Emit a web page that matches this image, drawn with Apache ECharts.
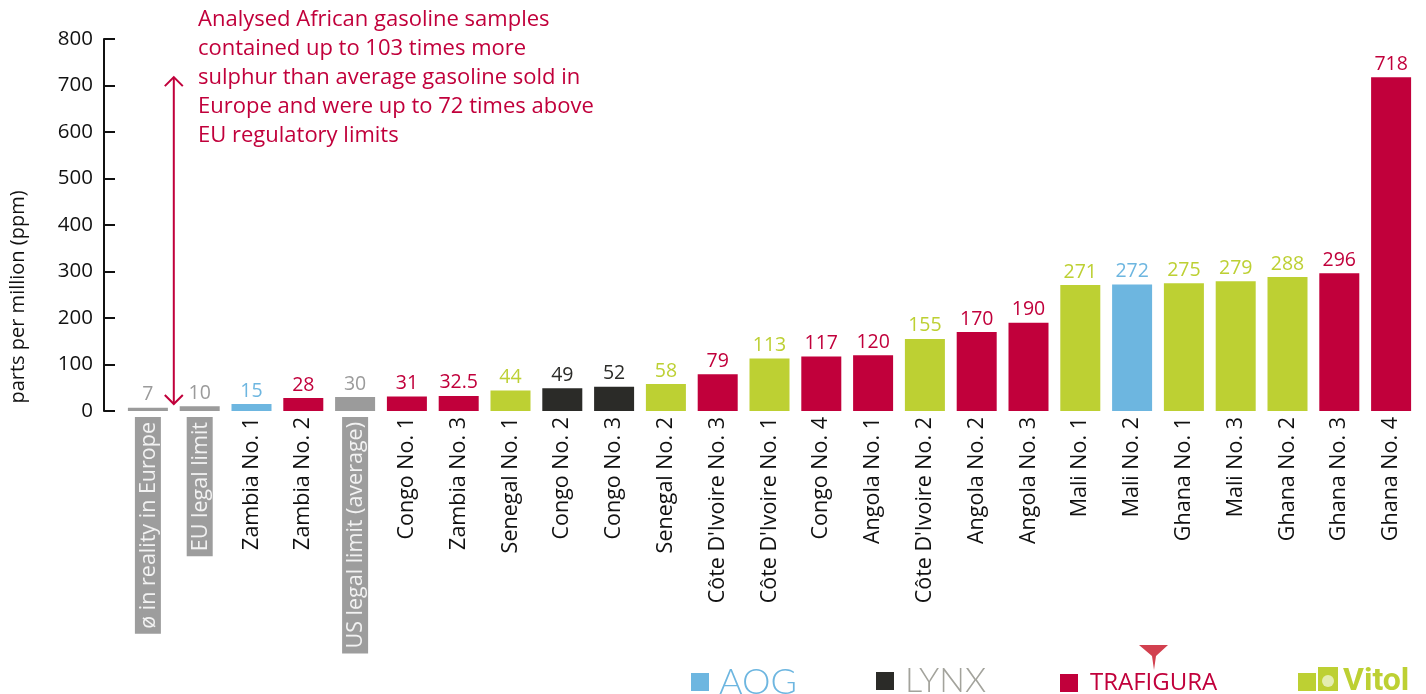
<!DOCTYPE html>
<html>
<head>
<meta charset="utf-8">
<script src="https://cdn.jsdelivr.net/npm/echarts@6/dist/echarts.min.js"></script>
<style>
  html, body { margin: 0; padding: 0; background: #fff; }
  #main { width: 1426px; height: 694px; }
</style>
</head>
<body>
<div id="main"></div>
<script>
var categories = ['ø in reality in Europe', 'EU legal limit', 'Zambia No. 1', 'Zambia No. 2',
	'US legal limit (average)', 'Congo No. 1', 'Zambia No. 3', 'Senegal No. 1', 'Congo No. 2',
	'Congo No. 3', 'Senegal No. 2', "Côte D'Ivoire No. 3", "Côte D'Ivoire No. 1", 'Congo No. 4',
	'Angola No. 1', "Côte D'Ivoire No. 2", 'Angola No. 2', 'Angola No. 3', 'Mali No. 1',
	'Mali No. 2', 'Ghana No. 1', 'Mali No. 3', 'Ghana No. 2', 'Ghana No. 3', 'Ghana No. 4'];
var values = [7, 10, 15, 28, 30, 31, 32.5, 44, 49, 52, 58, 79, 113, 117, 120, 155, 170, 190,
	271, 272, 275, 279, 288, 296, 718];
// who sold it ('ref' = reference values)
var owners = ['ref', 'ref', 'AOG', 'TRAFIGURA', 'ref', 'TRAFIGURA', 'TRAFIGURA', 'Vitol', 'LYNX',
	'LYNX', 'Vitol', 'TRAFIGURA', 'Vitol', 'TRAFIGURA', 'TRAFIGURA', 'Vitol', 'TRAFIGURA',
	'TRAFIGURA', 'Vitol', 'AOG', 'Vitol', 'Vitol', 'Vitol', 'TRAFIGURA', 'TRAFIGURA'];
var yTicks = [0, 800, 100];
var arrowRange = [15, 718];

var colors = { ref: '#9b9b9b', AOG: '#6db6e0', LYNX: '#2b2b28', TRAFIGURA: '#c1003b', Vitol: '#bdd033' };
var fontFam = '"Open Sans", "Noto Sans", sans-serif';
var red = '#c1003b';

var myChart = echarts.init(document.getElementById('main'));

function seriesFor(owner) {
	var data = [];
	for (var i = 0; i < values.length; i++)
		data.push(owners[i] == owner ? values[i] : '-');
	return {
		name: owner,
		type: 'bar',
		stack: 'all',
		barWidth: 40,
		data: data,
		itemStyle: { color: colors[owner] },
		label: {
			show: true,
			position: 'top',
			distance: 3,
			color: colors[owner],
			fontSize: 19.5,
			fontFamily: fontFam
		}
	};
}

var option = {
	animation: false,
	grid: { left: 116, right: 9, top: 39, bottom: 283 },
	xAxis: {
		type: 'category',
		data: categories,
		axisLine: { show: false },
		axisTick: { show: false },
		axisLabel: {
			rotate: 90,
			interval: 0,
			margin: 6,
			fontSize: 21.5,
			fontFamily: fontFam,
			color: '#111',
			formatter: function (v, i) {
				return owners[i] == 'ref' ? '{ref|' + v + '}' : v;
			},
			rich: {
				ref: {
					backgroundColor: '#9d9d9d',
					color: '#f2f2f2',
					fontSize: 21.5,
					fontFamily: fontFam,
					padding: [3, 5, 1, 5]
				}
			}
		}
	},
	yAxis: {
		type: 'value',
		min: yTicks[0],
		max: yTicks[1],
		interval: yTicks[2],
		offset: 18,
		name: 'parts per million (ppm)',
		nameLocation: 'middle',
		nameGap: 76,
		nameTextStyle: { fontSize: 20, fontFamily: fontFam, color: '#111', padding: [0, 144, 0, 0] },
		axisLine: { show: true, lineStyle: { color: '#111', width: 2 } },
		axisTick: { show: true, inside: true, length: 11, lineStyle: { color: '#111', width: 2 } },
		axisLabel: { fontSize: 20.5, fontFamily: fontFam, color: '#111', margin: 11 },
		splitLine: { show: false }
	},
	legend: [
		{ data: ['AOG'], left: 686, top: 659, itemWidth: 18, itemHeight: 18, icon: 'rect', selectedMode: false,
			textStyle: { fontSize: 36, fontFamily: 'Lato, sans-serif', fontWeight: 300, color: '#6db6e0', padding: [0, 0, 0, 5] } },
		{ data: ['LYNX'], left: 871, top: 659, itemWidth: 18, itemHeight: 18, icon: 'rect', selectedMode: false,
			textStyle: { fontSize: 34, fontFamily: 'Lato, sans-serif', fontWeight: 300, color: '#a3a39c', padding: [0, 0, 0, 6] } },
		{ data: ['TRAFIGURA'], left: 1055, top: 666, itemWidth: 18, itemHeight: 18, icon: 'rect', selectedMode: false,
			textStyle: { fontSize: 24, fontFamily: fontFam, color: red, padding: [2, 0, 0, 7] } },
		{ data: ['Vitol'], left: 1293, top: 661, itemWidth: 18, itemHeight: 18, icon: 'rect', selectedMode: false,
			textStyle: { fontSize: 32, fontFamily: 'Roboto, sans-serif', fontWeight: 'bold', color: '#bdd033', padding: [0, 0, 0, 22] } }
	],
	series: [seriesFor('ref'), seriesFor('AOG'), seriesFor('LYNX'), seriesFor('TRAFIGURA'), seriesFor('Vitol')]
};
myChart.setOption(option);

// annotation: double arrow between cat 0 and 1, plus text
var pTop = myChart.convertToPixel({ xAxisIndex: 0, yAxisIndex: 0 }, [0, arrowRange[1]]);
var pBot = myChart.convertToPixel({ xAxisIndex: 0, yAxisIndex: 0 }, [1, arrowRange[0]]);
var ax = (pTop[0] + pBot[0]) / 2;
var hd = 9;
myChart.setOption({
	graphic: [
		{ type: 'line', shape: { x1: ax, y1: pTop[1], x2: ax, y2: pBot[1] }, style: { stroke: red, lineWidth: 2 } },
		{ type: 'polyline', shape: { points: [[ax - hd, pTop[1] + hd], [ax, pTop[1]], [ax + hd, pTop[1] + hd]] },
			style: { stroke: red, lineWidth: 2, fill: null } },
		{ type: 'polyline', shape: { points: [[ax - hd, pBot[1] - hd], [ax, pBot[1]], [ax + hd, pBot[1] - hd]] },
			style: { stroke: red, lineWidth: 2, fill: null } },
		{ type: 'text', left: 198, top: 5,
			style: {
				text: 'Analysed African gasoline samples\ncontained up to 103 times more\nsulphur than average gasoline sold in\nEurope and were up to 72 times above\nEU regulatory limits',
				fill: red, fontSize: 22, lineHeight: 29, fontFamily: fontFam
			} },
		// little trafigura drip mark and vitol drop box
		{ type: 'polygon', shape: { points: [[1139, 645], [1168, 645], [1156, 656], [1154, 670], [1152, 656]] },
			style: { fill: '#d2404f' } },
		{ type: 'rect', shape: { x: 1318, y: 667, width: 20, height: 24 }, style: { fill: '#bdd033' } },
		{ type: 'circle', shape: { cx: 1328, cy: 681, r: 6 }, style: { fill: '#e4edb0' } }
	]
});
</script>
</body>
</html>
